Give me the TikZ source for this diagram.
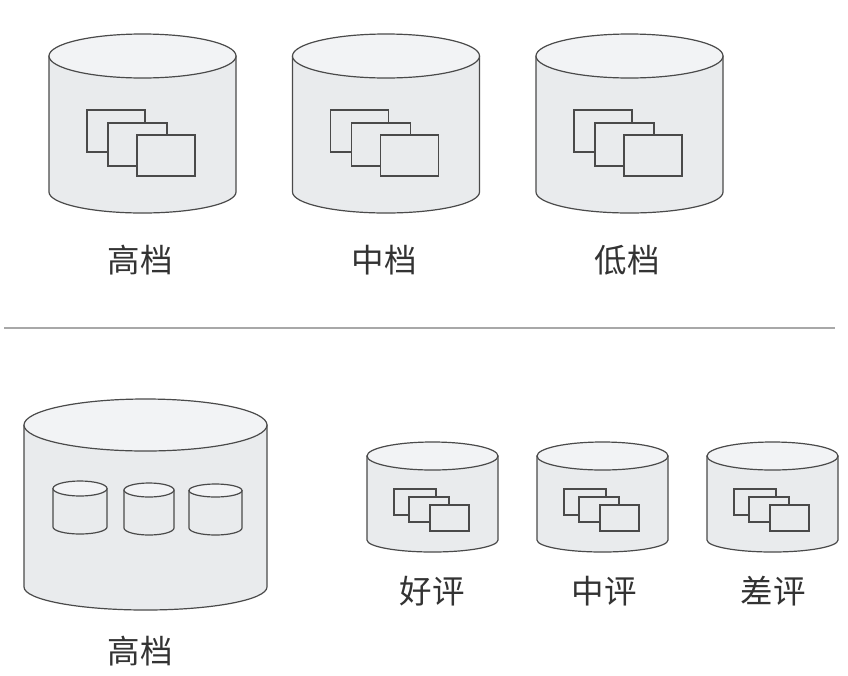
\documentclass[tikz,border=0pt]{standalone}
\usepackage{fontspec}
\setmainfont{Noto Sans CJK SC}
\definecolor{bodyfill}{HTML}{E9EBED}
\definecolor{topfill}{HTML}{F2F3F5}
\definecolor{edge}{HTML}{4A4A4A}
\definecolor{labeltext}{HTML}{333333}
\definecolor{rule}{HTML}{A8A8A8}
\tikzset{
  cyl body/.style={draw=edge,fill=bodyfill,line width=1.2pt,line join=round},
  cyl top/.style={draw=edge,fill=topfill,line width=1.2pt},
  card/.style={draw=edge,fill=bodyfill,line width=1.2pt},
  tag/.style={font=\fontsize{32.5}{33}\selectfont,text=labeltext,inner sep=0pt},
}
% #1 left, #2 right, #3 axis y of top, #4 axis y of bottom, #5 ry top, #6 ry bottom
\newcommand{\drum}[6]{%
  \pgfmathsetmacro{\cxx}{(#1+#2)/2}%
  \pgfmathsetmacro{\rxx}{(#2-#1)/2}%
  \draw[cyl body] (#1,#3) -- (#1,#4) arc[start angle=180,end angle=0,x radius=\rxx,y radius=#6] -- (#2,#3) -- cycle;
  \draw[cyl top] (\cxx,#3) ellipse[x radius=\rxx,y radius=#5];
}
\newcommand{\sheet}[4]{\draw[card] (#1,#3) rectangle (#2,#4);}
\begin{document}
\begin{tikzpicture}[x=1pt,y=-1pt]
\useasboundingbox[fill=white] (0,0) rectangle (848,675);
% top row
\foreach \dx in {0,243.5,487}{
  \begin{scope}[xshift=\dx pt]
    \drum{49}{236}{56}{192}{22}{21}
    \sheet{87}{145}{110}{152}
    \sheet{108}{167}{123}{166}
    \sheet{137}{195}{135}{176}
  \end{scope}
}
\node[tag] (t1) at (140,260) {高档};
\node[tag] (t2) at (384,260) {中档};
\node[tag] (t3) at (627,260) {低档};
\coordinate (ruleL) at (4,328);
\coordinate (ruleR) at (835,328);
\draw[rule,line width=1.2pt] (ruleL) -- (ruleR);
% big drum
\drum{24}{267}{425}{587}{26}{23}
\drum{53}{107}{488.5}{527}{7.5}{7}
\drum{124}{174}{490}{528}{7}{7}
\drum{189}{242}{490.5}{528}{6.5}{7}
\node[tag] (b1) at (140,651) {高档};
% small drums
\foreach \dx in {0,170,340}{
  \begin{scope}[xshift=\dx pt]
    \drum{367}{498}{456}{540}{14}{12}
    \sheet{394}{436}{489}{515}
    \sheet{409}{449}{497}{522}
    \sheet{430}{469}{505}{531}
  \end{scope}
}
\node[tag] (s1) at (432,591) {好评};
\node[tag] (s2) at (604,591) {中评};
\node[tag] (s3) at (773,591) {差评};
\end{tikzpicture}
\end{document}
